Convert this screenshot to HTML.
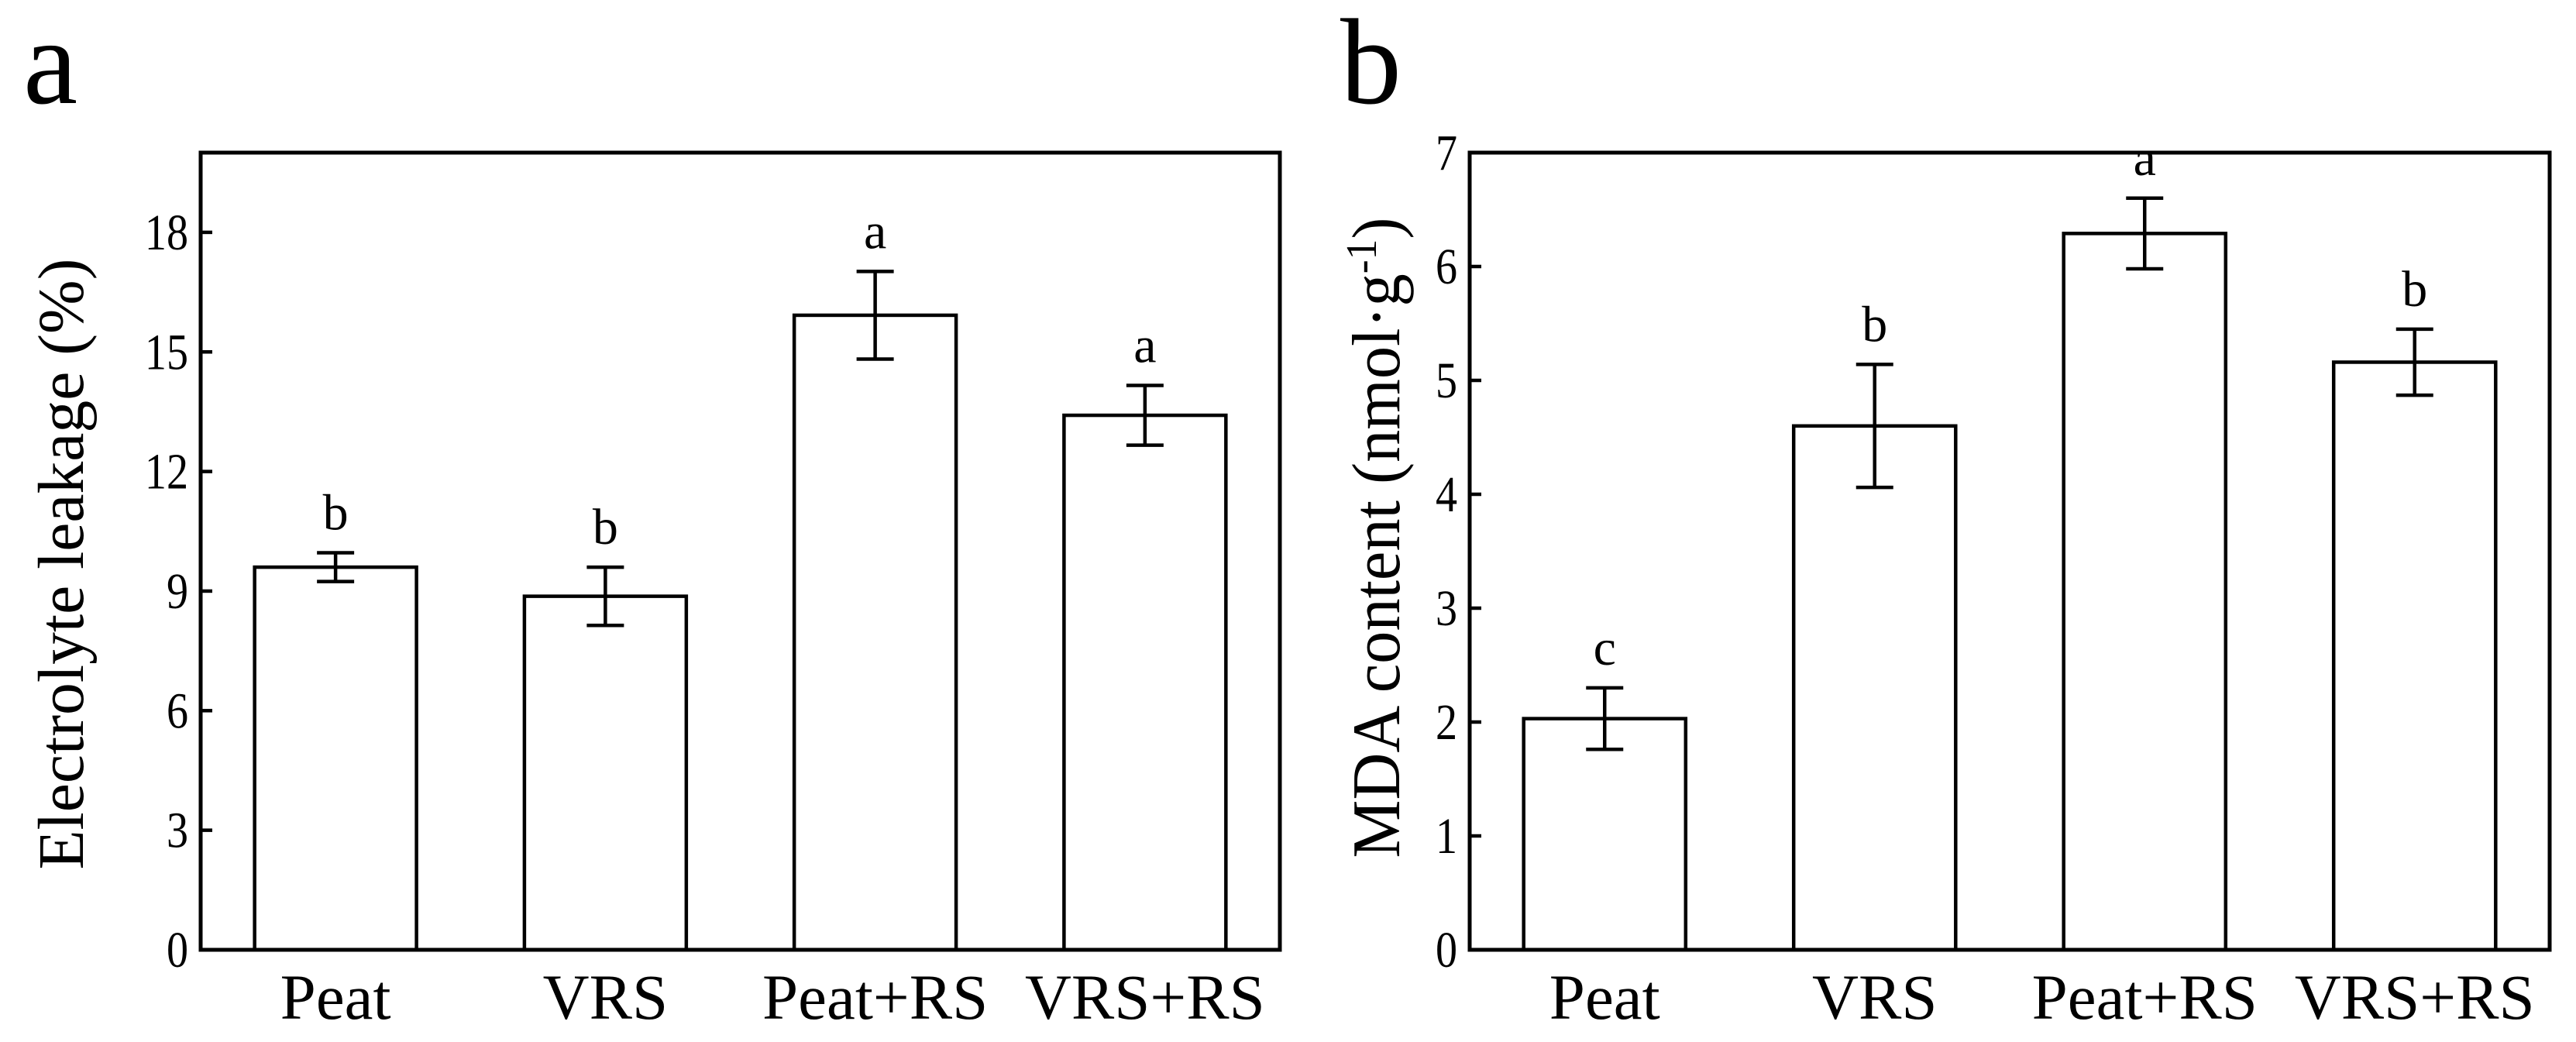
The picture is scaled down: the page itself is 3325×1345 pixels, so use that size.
<!DOCTYPE html>
<html><head><meta charset="utf-8"><style>
html,body{margin:0;padding:0;background:#fff;}
svg{display:block;font-family:"Liberation Serif",serif;}
</style></head><body>
<svg id="fig" width="3325" height="1345" viewBox="0 0 3325 1345" xmlns="http://www.w3.org/2000/svg">
<text x="30" y="133" font-size="158">a</text>
<text x="1730" y="133" font-size="158">b</text>
<text transform="translate(107,728) rotate(-90)" text-anchor="middle" font-size="84" textLength="789" lengthAdjust="spacingAndGlyphs">Electrolyte leakage (%)</text>
<text transform="translate(1806,694) rotate(-90)" text-anchor="middle" font-size="88" textLength="827" lengthAdjust="spacingAndGlyphs">MDA content (nmol·g<tspan dy="-30" font-size="56">-1</tspan><tspan dy="30">)</tspan></text>
<g id="pa"></g>
<g id="pb"></g>
</svg>
<script>
const categories = ["Peat","VRS","Peat+RS","VRS+RS"];
const leakValues = [9.6, 8.87, 15.92, 13.41];
const leakErrors = [0.36, 0.73, 1.1, 0.75];
const leakLetters = ["b","b","a","a"];
const leakTicks = [0,3,6,9,12,15,18];
const mdaValues = [2.03, 4.6, 6.29, 5.16];
const mdaErrors = [0.27, 0.54, 0.31, 0.29];
const mdaLetters = ["c","b","a","b"];
const mdaTicks = [0,1,2,3,4,5,6,7];

const NS = "http://www.w3.org/2000/svg";
function mk(tag, attrs, parent){
  const e = document.createElementNS(NS, tag);
  for (const k in attrs) e.setAttribute(k, attrs[k]);
  parent.appendChild(e);
  return e;
}
function panel(g, left, right, top, bottom, ymax, vals, errs, letters, ticks, key){
  const y = v => bottom - v / ymax * (bottom - top);
  const slot = (right - left) / categories.length;
  const x = i => left + slot * (i + 0.5);
  const bw = slot * 0.6;
  categories.forEach((c, i) => {
    const r = mk('rect', {x: x(i) - bw/2, y: y(vals[i]), width: bw, height: bottom - y(vals[i]), fill: '#fff', stroke: '#000', 'stroke-width': 4.5}, g);
    
    
    const hi = y(vals[i] + errs[i]), lo = y(vals[i] - errs[i]);
    const eb = mk('path', {d: `M${x(i)} ${hi}V${lo}M${x(i)-24} ${hi}H${x(i)+24}M${x(i)-24} ${lo}H${x(i)+24}`, stroke: '#000', 'stroke-width': 4.5, fill: 'none'}, g);
    
    
    const lt = mk('text', {x: x(i), y: hi - 30, 'text-anchor': 'middle', 'font-size': 66}, g);
    lt.textContent = letters[i];
    
    
    const xl = mk('text', {x: x(i), y: 1315, 'text-anchor': 'middle', 'font-size': 83}, g);
    xl.textContent = c;
    
    
  });
  ticks.forEach(t => {
    const tk = mk('line', {x1: left, x2: left + 15, y1: y(t), y2: y(t), stroke: '#000', 'stroke-width': 4.5}, g);
    
    
    const tl = mk('text', {x: 0, y: 0, 'text-anchor': 'end', 'font-size': 66, transform: `translate(${left - 16},${y(t) + 22}) scale(0.85,1)`}, g);
    tl.textContent = t;
    
    
  });
  const fr = mk('rect', {x: left, y: top, width: right - left, height: bottom - top, fill: 'none', stroke: '#000', 'stroke-width': 5}, g);
  
  
}
panel(document.getElementById('pa'), 259, 1652, 197, 1226, 20, leakValues, leakErrors, leakLetters, leakTicks, 'a');
panel(document.getElementById('pb'), 1897, 3291, 197, 1226, 7, mdaValues, mdaErrors, mdaLetters, mdaTicks, 'b');
</script>
</body></html>
